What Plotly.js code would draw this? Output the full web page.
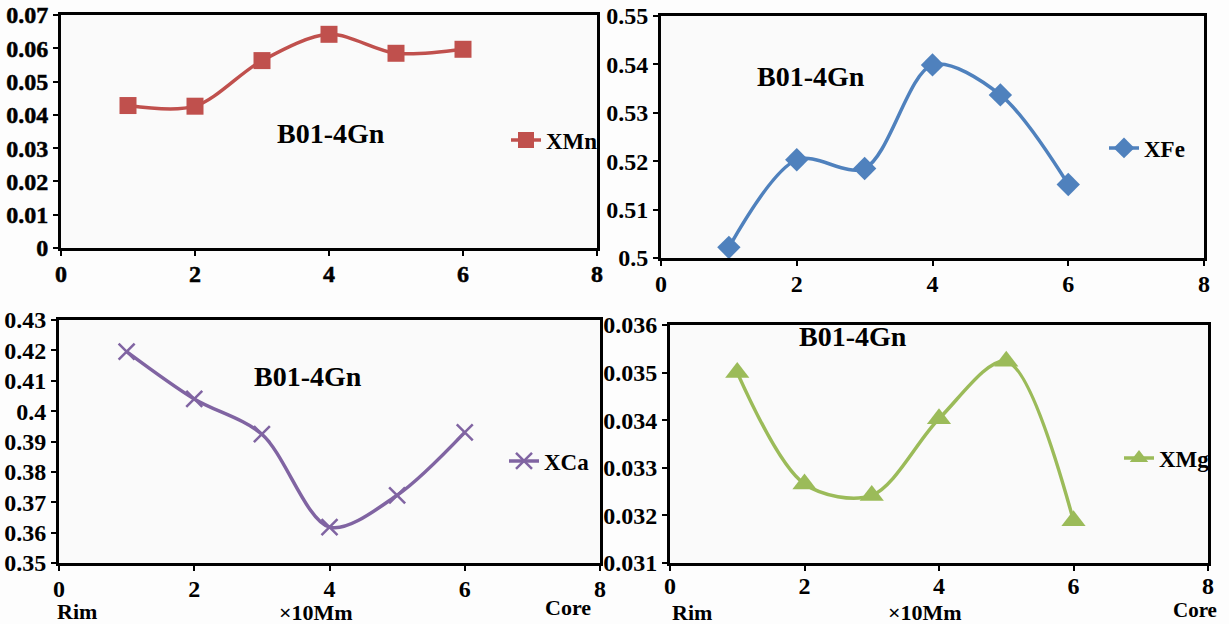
<!DOCTYPE html>
<html>
<head>
<meta charset="utf-8">
<script src="https://cdn.plot.ly/plotly-3.0.1.min.js"></script>
<style>
html,body{margin:0;padding:0;background:#fff;}
#chart{width:1229px;height:624px;}
#chart .xtick text, #chart .ytick text {stroke:#000; stroke-width:0.5px;}
</style>
</head>
<body>
<div id="chart"></div>
<script>
// Data
const positions = [1, 2, 3, 4, 5, 6];
const xMn = [0.0428, 0.0426, 0.0563, 0.0642, 0.0585, 0.0597];
const xFe = [0.5022, 0.5203, 0.5185, 0.5399, 0.5337, 0.5152];
const xCa = [0.4196, 0.4040, 0.3924, 0.3618, 0.3723, 0.3930];
const xMg = [0.03500, 0.03266, 0.03242, 0.03403, 0.03524, 0.03189];
const seriesNames = ['XMn', 'XFe', 'XCa', 'XMg'];
const sampleLabel = 'B01-4Gn';
const xTickVals = [0, 2, 4, 6, 8];
const xTickText = ['0', '2', '4', '6', '8'];
const yTicksMn = [0, 0.01, 0.02, 0.03, 0.04, 0.05, 0.06, 0.07];
const yTextMn = ['0', '0.01', '0.02', '0.03', '0.04', '0.05', '0.06', '0.07'];
const yTicksFe = [0.5, 0.51, 0.52, 0.53, 0.54, 0.55];
const yTextFe = ['0.5', '0.51', '0.52', '0.53', '0.54', '0.55'];
const yTicksCa = [0.35, 0.36, 0.37, 0.38, 0.39, 0.4, 0.41, 0.42, 0.43];
const yTextCa = ['0.35', '0.36', '0.37', '0.38', '0.39', '0.4', '0.41', '0.42', '0.43'];
const yTicksMg = [0.031, 0.032, 0.033, 0.034, 0.035, 0.036];
const yTextMg = ['0.031', '0.032', '0.033', '0.034', '0.035', '0.036'];

const W = 1229, H = 624;
const fx = p => p / W;
const fy = p => 1 - p / H;
const serif = 'Liberation Serif, Times New Roman, serif';
const tickFont = {family: serif, size: 24, color: '#000', weight: 700};
const b = arr => arr.map(s => '<b>' + s + '</b>');

function xaxis(dom, anchor, standoff) {
  return {domain: dom, anchor: anchor, range: [0, 8], tickmode: 'array', tickvals: xTickVals, ticktext: b(xTickText),
    showline: true, mirror: true, linecolor: '#000', linewidth: 3,
    ticks: 'outside', ticklen: 5, tickwidth: 2, tickcolor: '#000',
    ticklabelstandoff: standoff === undefined ? -3 : standoff,
    showgrid: false, zeroline: false, tickfont: tickFont, fixedrange: true};
}
function yaxis(dom, anchor, range, vals, text) {
  return {domain: dom, anchor: anchor, range: range, tickmode: 'array', tickvals: vals, ticktext: b(text),
    showline: true, mirror: true, linecolor: '#000', linewidth: 3,
    ticks: 'outside', ticklen: 5, tickwidth: 2, tickcolor: '#000',
    showgrid: false, zeroline: false, tickfont: tickFont, ticklabelstandoff: 0, fixedrange: true};
}

const traces = [
  {x: positions, y: xMn, name: '<b>' + seriesNames[0] + '</b>', xaxis: 'x', yaxis: 'y', legend: 'legend',
   mode: 'lines+markers', line: {shape: 'spline', smoothing: 0.9, color: '#C0504D', width: 3.5},
   marker: {symbol: 'square', size: 17, color: '#C0504D'}},
  {x: positions, y: xFe, name: '<b>' + seriesNames[1] + '</b>', xaxis: 'x2', yaxis: 'y2', legend: 'legend2',
   mode: 'lines+markers', line: {shape: 'spline', smoothing: 0.9, color: '#4F81BD', width: 3.5},
   marker: {symbol: 'diamond', size: 18, color: '#4F81BD'}},
  {x: positions, y: xCa, name: '<b>' + seriesNames[2] + '</b>', xaxis: 'x3', yaxis: 'y3', legend: 'legend3',
   mode: 'lines+markers', line: {shape: 'spline', smoothing: 0.9, color: '#8064A2', width: 3.5},
   marker: {symbol: 'x-thin-open', size: 16, color: '#8064A2', line: {color: '#8064A2', width: 2.5}}},
  {x: positions, y: xMg, name: '<b>' + seriesNames[3] + '</b>', xaxis: 'x4', yaxis: 'y4', legend: 'legend4',
   mode: 'lines+markers', line: {shape: 'spline', smoothing: 0.9, color: '#9BBB59', width: 3.5},
   marker: {symbol: 'triangle-up', size: 21, color: '#9BBB59'}}
];

const legFont = {family: serif, size: 23, color: '#000', weight: 700};
function leg(xp, yp) {
  return {x: fx(xp), y: fy(yp), xanchor: 'left', yanchor: 'middle', bgcolor: 'rgba(0,0,0,0)',
    font: legFont, borderwidth: 0, itemwidth: 30, tracegroupgap: 0};
}

const annFont = {family: serif, size: 28, color: '#000', weight: 700};
const labFont = {family: serif, size: 22, color: '#000', weight: 700};
function ann(text, xp, yp, font, anchor, yanchor) {
  return {text: '<b>' + text + '</b>', xref: 'paper', yref: 'paper', x: fx(xp), y: fy(yp),
    xanchor: anchor || 'center', yanchor: yanchor || 'middle', showarrow: false, font: font || annFont};
}

const layout = {
  width: W, height: H,
  margin: {l: 0, r: 0, t: 0, b: 0},
  paper_bgcolor: '#fdfdfd', plot_bgcolor: '#fafafa',
  showlegend: true,
  xaxis: xaxis([fx(61), fx(597)], 'y'),
  yaxis: yaxis([fy(248), fy(15)], 'x', [0, 0.07], yTicksMn, yTextMn),
  xaxis2: xaxis([fx(661), fx(1204)], 'y2'),
  yaxis2: yaxis([fy(258), fy(16)], 'x2', [0.5, 0.55], yTicksFe, yTextFe),
  xaxis3: xaxis([fx(59), fx(600)], 'y3'),
  yaxis3: yaxis([fy(563), fy(320)], 'x3', [0.35, 0.43], yTicksCa, yTextCa),
  xaxis4: xaxis([fx(670), fx(1208)], 'y4', -6),
  yaxis4: yaxis([fy(563), fy(325)], 'x4', [0.031, 0.036], yTicksMg, yTextMg),
  legend: leg(506, 140),
  legend2: leg(1104, 148),
  legend3: leg(504, 461),
  legend4: leg(1119, 458),
  annotations: [
    ann(sampleLabel, 331, 133),
    ann(sampleLabel, 811, 76),
    ann(sampleLabel, 308, 376),
    ann(sampleLabel, 853, 336),
    ann('Rim', 77, 611, labFont),
    ann('×10Mm', 316, 612, labFont),
    ann('Core', 593, 607, labFont, 'right'),
    ann('Rim', 692, 612, labFont),
    ann('×10Mm', 925, 612, labFont),
    ann('Core', 1195, 624, {family: serif, size: 21, color: '#000', weight: 700}, 'center', 'bottom')
  ]
};

Plotly.newPlot('chart', traces, layout, {displayModeBar: false, staticPlot: true});
</script>
</body>
</html>
